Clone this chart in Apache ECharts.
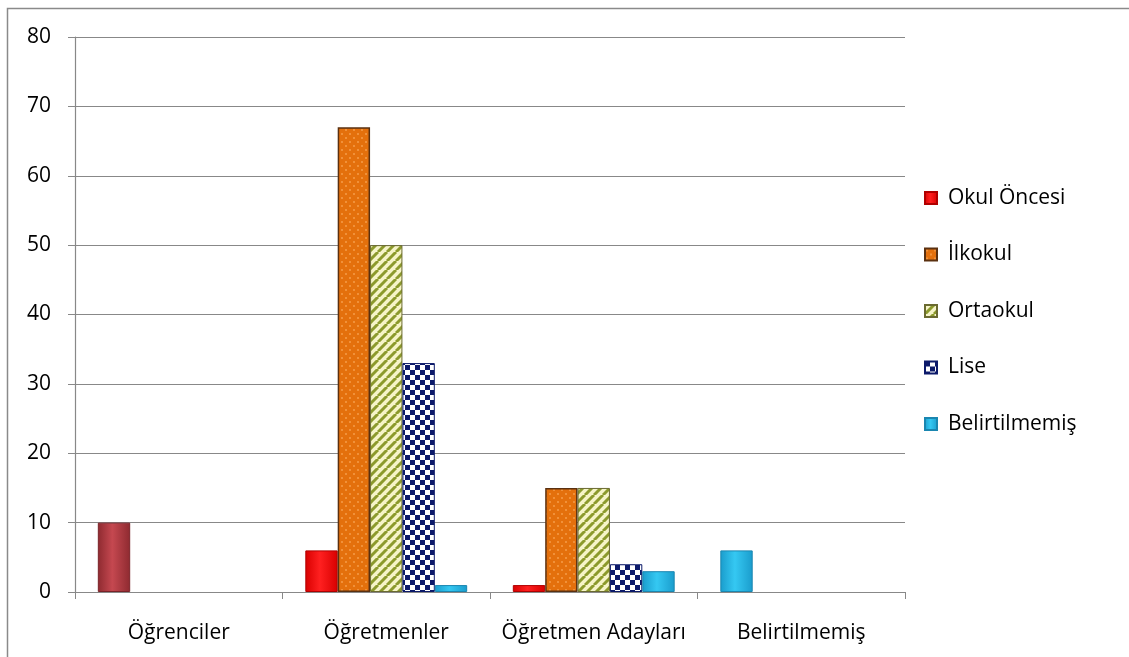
<!DOCTYPE html>
<html>
<head>
<meta charset="utf-8">
<script src="https://cdn.jsdelivr.net/npm/echarts@6/dist/echarts.min.js"></script>
<style>
  html, body { margin: 0; padding: 0; background: #fff; }
  #chart { width: 1129px; height: 657px; }
</style>
</head>
<body>
<div id="chart"></div>
<script>
// Categories and series values
const categories = ['Öğrenciler', 'Öğretmenler', 'Öğretmen Adayları', 'Belirtilmemiş'];
const seriesNames = ['Okul Öncesi', 'İlkokul', 'Ortaokul', 'Lise', 'Belirtilmemiş'];
const okulOncesi = [10, 6, 1, 6];
const ilkokul = [null, 67, 15, null];
const ortaokul = [null, 50, 15, null];
const lise = [null, 33, 4, null];
const belirtilmemis = [null, 1, 3, null];
const yTicks = [0, 10, 20, 30, 40, 50, 60, 70, 80];

const FONT = '"Open Sans", "Noto Sans", sans-serif';
const FONT_SIZE = 21;

// Fill patterns drawn on small canvases
function makeCanvas(w, h, draw) {
  const c = document.createElement('canvas');
  c.width = w; c.height = h;
  draw(c.getContext('2d'), w, h);
  return c;
}
const dotsPattern = makeCanvas(8, 8, (g, w, h) => {
  g.fillStyle = '#e4700c'; g.fillRect(0, 0, w, h);
  g.fillStyle = '#f49a45';
  g.beginPath(); g.arc(2, 2, 1.1, 0, Math.PI * 2); g.fill();
  g.beginPath(); g.arc(6, 6, 1.1, 0, Math.PI * 2); g.fill();
});
const stripePattern = makeCanvas(9, 9, (g, w, h) => {
  g.fillStyle = '#f6f4c8'; g.fillRect(0, 0, w, h);
  g.strokeStyle = '#8c9a2c'; g.lineWidth = 3;
  for (let k = -9; k <= 18; k += 9) {
    g.beginPath(); g.moveTo(k, h); g.lineTo(k + 9, 0); g.stroke();
  }
});
const checkPattern = makeCanvas(10, 10, (g, w, h) => {
  g.fillStyle = '#ffffff'; g.fillRect(0, 0, w, h);
  g.fillStyle = '#0c1a6a';
  g.fillRect(0, 0, 5, 5); g.fillRect(5, 5, 5, 5);
});

function shade(dark, light) {
  return {
    type: 'linear', x: 0, y: 0, x2: 1, y2: 0,
    colorStops: [
      { offset: 0, color: dark },
      { offset: 0.45, color: light },
      { offset: 1, color: dark }
    ]
  };
}

const chart = echarts.init(document.getElementById('chart'), null, { renderer: 'canvas' });

const barCommon = {
  type: 'bar',
  barGap: '0%',
  barCategoryGap: '22%'
};

chart.setOption({
  animation: false,
  backgroundColor: '#ffffff',
  graphic: [{
    type: 'rect',
    shape: { x: 7.5, y: 8.5, width: 1140, height: 680 },
    style: { fill: 'none', stroke: '#8a8a8a', lineWidth: 1.5 },
    z: 100
  }],
  grid: { left: 75, right: 224, top: 37, bottom: 65, containLabel: false },
  legend: {
    orient: 'vertical',
    left: 919,
    top: 182,
    itemWidth: 12,
    itemHeight: 12,
    itemGap: 34.5,
    icon: 'rect',
    textStyle: { fontFamily: FONT, fontSize: FONT_SIZE, lineHeight: 22, color: '#000', padding: [0, 0, 0, 6] },
    data: seriesNames
  },
  xAxis: {
    type: 'category',
    data: categories,
    axisLine: { lineStyle: { color: '#888888', width: 1.2 } },
    axisTick: { show: true, length: 7, interval: 0, lineStyle: { color: '#888888' } },
    axisLabel: { interval: 0, margin: 31, fontFamily: FONT, fontSize: FONT_SIZE, color: '#000' }
  },
  yAxis: {
    type: 'value',
    min: yTicks[0],
    max: yTicks[yTicks.length - 1],
    interval: 10,
    axisLine: { show: true, lineStyle: { color: '#888888', width: 1.2 } },
    axisTick: { show: true, length: 7, lineStyle: { color: '#888888' } },
    splitLine: { lineStyle: { color: '#888888', width: 1.2 } },
    axisLabel: { margin: 24, fontFamily: FONT, fontSize: FONT_SIZE, color: '#000' }
  },
  series: [
    Object.assign({}, barCommon, {
      name: seriesNames[0],
      data: okulOncesi.map((v, i) => {
        if (i === 0) {
          return { value: v, itemStyle: { color: shade('#8e2a30', '#c54850'), borderColor: '#7a2228' } };
        }
        if (i === 3) {
          return { value: v, itemStyle: { color: shade('#1a9ccc', '#35c8f2'), borderColor: '#1a86b0' } };
        }
        return v;
      }),
      itemStyle: { color: shade('#d80000', '#ff2020'), borderColor: '#b00000', borderWidth: 1 }
    }),
    Object.assign({}, barCommon, {
      name: seriesNames[1],
      data: ilkokul,
      itemStyle: { color: { image: dotsPattern, repeat: 'repeat' }, borderColor: '#5a3010', borderWidth: 1.5 }
    }),
    Object.assign({}, barCommon, {
      name: seriesNames[2],
      data: ortaokul,
      itemStyle: { color: { image: stripePattern, repeat: 'repeat' }, borderColor: '#6a6a30', borderWidth: 1 }
    }),
    Object.assign({}, barCommon, {
      name: seriesNames[3],
      data: lise,
      itemStyle: { color: { image: checkPattern, repeat: 'repeat' }, borderColor: '#0c1a6a', borderWidth: 1 }
    }),
    Object.assign({}, barCommon, {
      name: seriesNames[4],
      data: belirtilmemis,
      itemStyle: { color: shade('#1a9ccc', '#35c8f2'), borderColor: '#1a86b0', borderWidth: 1 }
    })
  ]
});
</script>
</body>
</html>
